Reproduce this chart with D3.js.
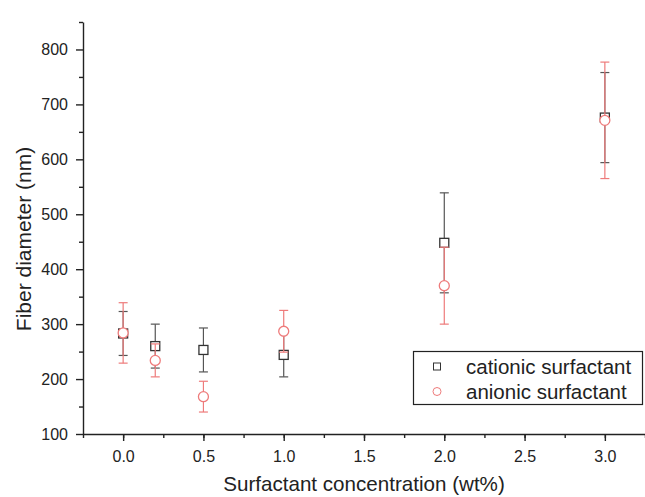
<!DOCTYPE html>
<html lang="en">
<head>
    <meta charset="UTF-8">
    <title>Fiber diameter vs surfactant concentration</title>
    <script src="https://d3js.org/d3.v7.min.js"></script>
    <style>
        body {
            margin: 0;
            background: #fff;
            font-family: "Liberation Sans", Arial, sans-serif;
        }
        svg {
            display: block;
        }
        .axis text {
            font-size: 16px;
            fill: #222;
        }
        .axis path, .axis line {
            stroke: #222;
            stroke-width: 1.4px;
        }
    </style>
</head>
<body>
    <div id="container"></div>

    <script>
        // data
        const concentration = [0.0, 0.2, 0.5, 1.0, 2.0, 3.0];
        const cationicMean = [283, 260, 253, 244, 448, 676];
        const cationicErr = [40, 40, 40, 40, 91, 82];
        const anionicMean = [284, 234, 168, 287, 370, 671];
        const anionicErr = [55, 30, 28, 38, 70, 106];
        const xTicks = [0.0, 0.5, 1.0, 1.5, 2.0, 2.5, 3.0];
        const yTicks = [100, 200, 300, 400, 500, 600, 700, 800];
        const seriesNames = ['cationic surfactant', 'anionic surfactant'];

        const width = 645, height = 497;
        const margin = {left: 83, top: 22, right: 0, bottom: 63};

        const greyCol = '#555';
        const redCol = '#ee7b7b';

        const svg = d3.select('#container')
            .append('svg')
            .attr('width', width)
            .attr('height', height);

        // scales
        const x = d3.scaleLinear()
            .domain([-0.25, 3.25])
            .range([margin.left, width - margin.right]);

        const y = d3.scaleLinear()
            .domain([100, 850])
            .range([height - margin.bottom, margin.top]);

        // minor ticks first (no labels)
        svg.append('g')
            .attr('class', 'axis')
            .attr('transform', `translate(0,${y(100)})`)
            .call(d3.axisBottom(x).tickValues(d3.range(-0.25, 3.26, 0.25)).tickSize(4).tickFormat(''))
            .select('.domain').remove();

        svg.append('g')
            .attr('class', 'axis')
            .attr('transform', `translate(${x(-0.25)},0)`)
            .call(d3.axisLeft(y).tickValues(d3.range(150, 851, 100)).tickSize(4).tickFormat(''))
            .select('.domain').remove();

        // major ticks + labels
        svg.append('g')
            .attr('class', 'axis')
            .attr('transform', `translate(0,${y(100)})`)
            .call(d3.axisBottom(x).tickValues(xTicks).tickSize(7).tickSizeOuter(0).tickPadding(10).tickFormat(d3.format('.1f')));

        svg.append('g')
            .attr('class', 'axis')
            .attr('transform', `translate(${x(-0.25)},0)`)
            .call(d3.axisLeft(y).tickValues(yTicks).tickSize(7).tickSizeOuter(0).tickPadding(8));

        // axis titles
        svg.append('text')
            .attr('x', 364)
            .attr('y', 491)
            .attr('text-anchor', 'middle')
            .style('font-size', '20.6px')
            .style('fill', '#222')
            .text('Surfactant concentration (wt%)');

        svg.append('text')
            .attr('transform', 'translate(31,239) rotate(-90)')
            .attr('text-anchor', 'middle')
            .style('font-size', '21px')
            .style('fill', '#222')
            .text('Fiber diameter (nm)');

        // helper to draw error bars
        function errorBars(mean, err, color) {
            const g = svg.append('g');
            const capW = 4.5;
            concentration.forEach(function(c, i) {
                const cx = x(c);
                g.append('line')
                    .attr('x1', cx).attr('x2', cx)
                    .attr('y1', y(mean[i] - err[i])).attr('y2', y(mean[i] + err[i]))
                    .attr('stroke', color).attr('stroke-width', 1.2);
                [mean[i] - err[i], mean[i] + err[i]].forEach(function(v) {
                    g.append('line')
                        .attr('x1', cx - capW).attr('x2', cx + capW)
                        .attr('y1', y(v)).attr('y2', y(v))
                        .attr('stroke', color).attr('stroke-width', 1.2);
                });
            });
        }

        // cationic: bars then squares
        errorBars(cationicMean, cationicErr, greyCol);

        svg.selectAll('.cat')
            .data(concentration)
            .enter()
            .append('rect')
            .attr('class', 'cat')
            .attr('x', (d) => x(d) - 4.5)
            .attr('y', (d, i) => y(cationicMean[i]) - 4.5)
            .attr('width', 9)
            .attr('height', 9)
            .attr('fill', '#fff')
            .attr('stroke', '#333')
            .attr('stroke-width', 1.3);

        // anionic drawn on top
        errorBars(anionicMean, anionicErr, redCol);

        svg.selectAll('.ani')
            .data(concentration)
            .enter()
            .append('circle')
            .attr('class', 'ani')
            .attr('cx', (d) => x(d))
            .attr('cy', (d, i) => y(anionicMean[i]))
            .attr('r', 5)
            .attr('fill', '#fff')
            .attr('stroke', redCol)
            .attr('stroke-width', 1.3);

        // legend
        const legend = svg.append('g');
        legend.append('rect')
            .attr('x', 413.5).attr('y', 351.5)
            .attr('width', 229).attr('height', 53)
            .attr('fill', '#fff')
            .attr('stroke', '#222')
            .attr('stroke-width', 1.2);

        legend.append('rect')
            .attr('x', 433.5).attr('y', 363)
            .attr('width', 7).attr('height', 7)
            .attr('fill', 'none')
            .attr('stroke', '#333');

        legend.append('circle')
            .attr('cx', 437).attr('cy', 391.5)
            .attr('r', 4)
            .attr('fill', 'none')
            .attr('stroke', redCol);

        legend.selectAll('.legtext')
            .data(seriesNames)
            .enter()
            .append('text')
            .attr('x', 466)
            .attr('y', (d, i) => 374 + i * 25)
            .style('font-size', '20.5px')
            .style('fill', '#222')
            .text((d) => d);
    </script>
</body>
</html>
